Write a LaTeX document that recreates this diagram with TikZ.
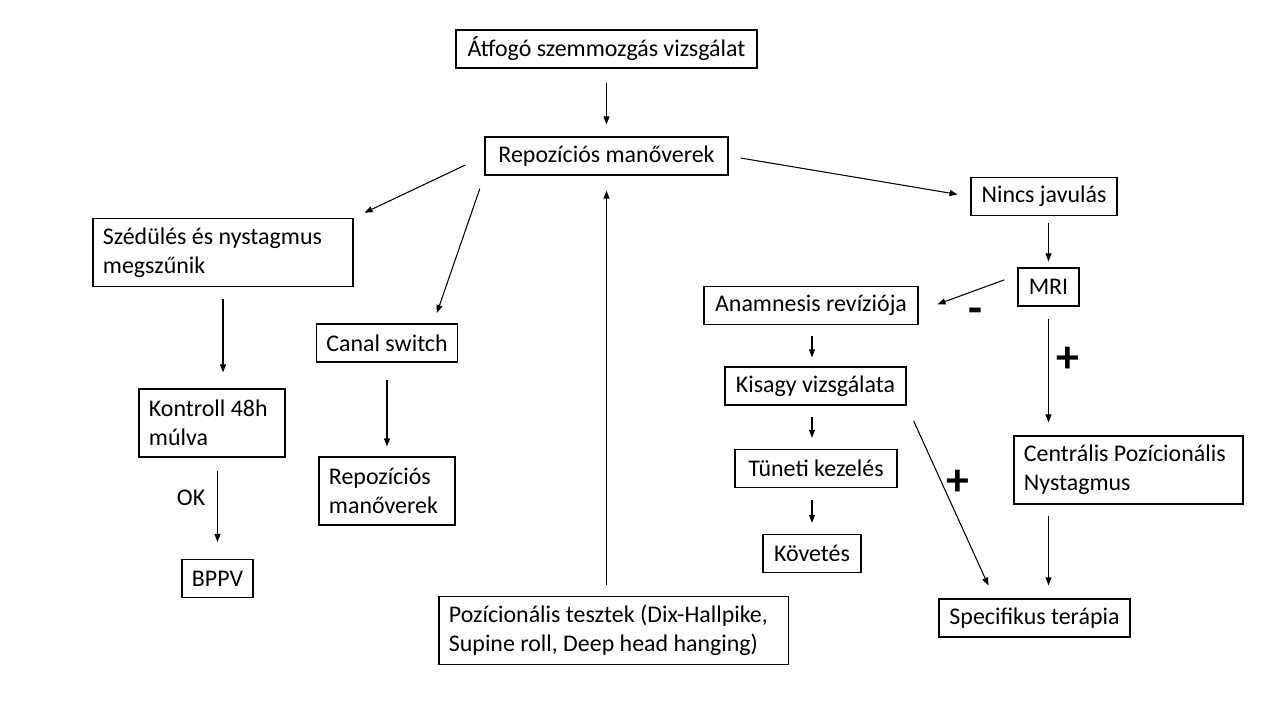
\documentclass[tikz,border=0pt]{standalone}
\usepackage{fontspec}
\setmainfont{Carlito}
\usetikzlibrary{arrows.meta, positioning}

\begin{document}
\begin{tikzpicture}[x=0.01cm, y=-0.01cm,
  font=\fontsize{6.8}{8.25}\selectfont,
  nbox/.style={draw, line width=0.35pt, align=flush left, inner xsep=1mm, inner ysep=0pt, minimum height=3.8mm},
  tall/.style={minimum height=6.8mm},
  arr/.style={-{Triangle[length=0.8mm, width=0.6mm]}, line width=0.3pt},
  sign/.style={font=\fontsize{13}{13}\selectfont\bfseries, inner sep=0pt}
]
  \fill[white] (0,0) rectangle (1280,720);

  % left branch
  \node[nbox, minimum width=3.01cm] (exam) at (606.5,49) {Átfogó szemmozgás vizsgálat};
  \node[nbox, minimum width=2.43cm] (repo) at (606.5,156) {Repozíciós manőverek};
  \node[nbox, tall, text width=2.40cm] (relief) at (223,252.5) {Szédülés és nystagmus\\megszűnik};
  \node[nbox, tall, text width=1.26cm] (ctrl) at (212,423) {Kontroll 48h\\múlva};
  \node[nbox, minimum width=0.71cm] (bppv) at (217.5,578.5) {BPPV};
  \node[nbox, minimum width=1.36cm] (canal) at (387,343) {Canal switch};
  \node[nbox, tall, text width=1.16cm] (repo2) at (387,491) {Repozíciós\\manőverek};
  \node[nbox, tall, text width=3.29cm] (tests) at (613.5,630.5) {Pozícionális tesztek (Dix-Hallpike,\\Supine roll, Deep head hanging)};

  % right branch
  \node[nbox, minimum width=1.46cm] (noimp) at (1044,196.5) {Nincs javulás};
  \node[nbox, minimum width=0.61cm] (mri) at (1048.5,287) {MRI};
  \node[nbox, minimum width=2.14cm] (anam) at (811,305.5) {Anamnesis revíziója};
  \node[nbox, minimum width=1.81cm] (cereb) at (815.5,386) {Kisagy vizsgálata};
  \node[nbox, minimum width=1.62cm] (sympt) at (816,468.5) {Tüneti kezelés};
  \node[nbox, minimum width=0.98cm] (follow) at (812,553.5) {Követés};
  \node[nbox, tall, text width=2.09cm] (cpn) at (1128.5,470) {Centrális Pozícionális\\Nystagmus};
  \node[nbox, minimum width=1.91cm] (spec) at (1034.5,618) {Specifikus terápia};

  \node[sign] (minus) at (975,316) {-};
  \node[sign] (plusA) at (1068,360) {+};
  \node[sign] (plusB) at (958,483) {+};

  \draw[arr, shorten <=1.4mm, shorten >=1.2mm] (exam) -- (repo);
  \draw[arr, shorten <=2.1mm, shorten >=1.2mm] (repo.west) -- (relief.north east);
  \draw[arr, shorten <=1.4mm, shorten >=1.1mm] (repo.south west) -- (canal.23);
  \draw[arr, shorten <=1.2mm, shorten >=1.3mm] (repo.east) -- (noimp.west);
  \draw[arr, shorten <=1.1mm, shorten >=1.5mm] (repo.south |- tests.north) -- (repo.south);
  \draw[arr, shorten <=1.2mm, shorten >=1.6mm] (relief.south) -- (relief.south |- ctrl.north);
  \draw[arr, shorten <=1.3mm, shorten >=1.7mm] (bppv.north |- ctrl.south) -- node[pos=0.4, left=0pt] (ok) {OK} (bppv.north);
  \draw[arr, shorten <=1.7mm, shorten >=1mm] (canal) -- (repo2);

  \draw[arr, shorten <=0.7mm, shorten >=0.6mm] (mri.north |- noimp.south) -- (mri.north);
  \draw[arr, shorten <=1.4mm, shorten >=2mm] (mri.159) -- (anam.-3);
  \draw[arr, shorten <=1.1mm, shorten >=0.9mm] (anam.south -| follow) -- (cereb.north -| follow);
  \draw[arr, shorten <=1.1mm, shorten >=1.1mm] (cereb.south -| follow) -- (sympt.north -| follow);
  \draw[arr, shorten <=1.2mm, shorten >=1.1mm] (sympt.south -| follow) -- (follow.north);
  \draw[arr, shorten <=1.7mm, shorten >=1.4mm] (cereb.south east) -- (spec.154);
  \draw[arr, shorten <=1.2mm, shorten >=1.3mm] (mri.south) -- (mri.south |- cpn.north);
  \draw[arr, shorten <=1.1mm, shorten >=1.3mm] (cpn.south -| mri.south) -- (spec.north -| mri.south);
\end{tikzpicture}
\end{document}
